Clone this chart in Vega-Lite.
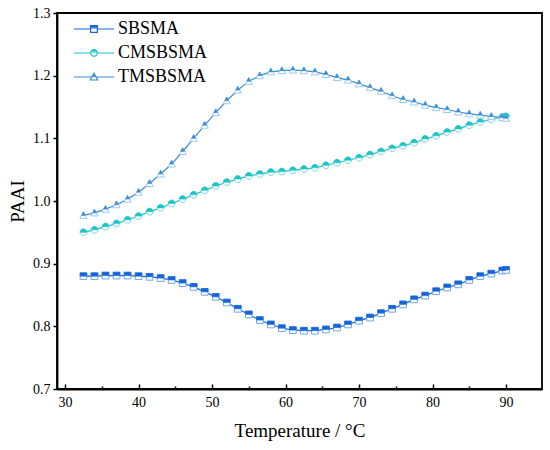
{
  "$schema": "https://vega.github.io/schema/vega-lite/v6.json",
  "width": 485,
  "height": 376,
  "autosize": "none",
  "padding": {"left": 57, "top": 13, "right": 8, "bottom": 61},
  "background": "white",
  "config": {
    "font": "Liberation Serif",
    "view": {"stroke": "black", "strokeWidth": 1.8},
    "axis": {
      "domainColor": "black",
      "domainWidth": 1.8,
      "tickColor": "black",
      "tickWidth": 1.5,
      "labelColor": "black",
      "labelFont": "Liberation Serif",
      "labelFontSize": 14,
      "titleColor": "black",
      "titleFont": "Liberation Serif",
      "titleFontSize": 19,
      "titleFontWeight": "normal",
      "grid": false
    },
    "legend": {
      "labelFont": "Liberation Serif",
      "labelFontSize": 18,
      "labelColor": "black"
    }
  },
  "data": {
    "values": [
      {"s": "SBSMA", "t": 32.5, "v": 0.880}, {"s": "SBSMA", "t": 34, "v": 0.880}, {"s": "SBSMA", "t": 35.5, "v": 0.881},
      {"s": "SBSMA", "t": 37, "v": 0.881}, {"s": "SBSMA", "t": 38.5, "v": 0.881}, {"s": "SBSMA", "t": 40, "v": 0.880},
      {"s": "SBSMA", "t": 41.5, "v": 0.879}, {"s": "SBSMA", "t": 43, "v": 0.877}, {"s": "SBSMA", "t": 44.5, "v": 0.874},
      {"s": "SBSMA", "t": 46, "v": 0.869}, {"s": "SBSMA", "t": 47.5, "v": 0.863}, {"s": "SBSMA", "t": 49, "v": 0.855},
      {"s": "SBSMA", "t": 50.5, "v": 0.847}, {"s": "SBSMA", "t": 52, "v": 0.838}, {"s": "SBSMA", "t": 53.5, "v": 0.828},
      {"s": "SBSMA", "t": 55, "v": 0.819}, {"s": "SBSMA", "t": 56.5, "v": 0.810}, {"s": "SBSMA", "t": 58, "v": 0.803},
      {"s": "SBSMA", "t": 59.5, "v": 0.797}, {"s": "SBSMA", "t": 61, "v": 0.794}, {"s": "SBSMA", "t": 62.5, "v": 0.793},
      {"s": "SBSMA", "t": 64, "v": 0.793}, {"s": "SBSMA", "t": 65.5, "v": 0.795}, {"s": "SBSMA", "t": 67, "v": 0.798},
      {"s": "SBSMA", "t": 68.5, "v": 0.803}, {"s": "SBSMA", "t": 70, "v": 0.809}, {"s": "SBSMA", "t": 71.5, "v": 0.814},
      {"s": "SBSMA", "t": 73, "v": 0.821}, {"s": "SBSMA", "t": 74.5, "v": 0.828}, {"s": "SBSMA", "t": 76, "v": 0.835},
      {"s": "SBSMA", "t": 77.5, "v": 0.843}, {"s": "SBSMA", "t": 79, "v": 0.849}, {"s": "SBSMA", "t": 80.5, "v": 0.856},
      {"s": "SBSMA", "t": 82, "v": 0.862}, {"s": "SBSMA", "t": 83.5, "v": 0.867}, {"s": "SBSMA", "t": 85, "v": 0.874},
      {"s": "SBSMA", "t": 86.5, "v": 0.880}, {"s": "SBSMA", "t": 88, "v": 0.884}, {"s": "SBSMA", "t": 89.5, "v": 0.889},
      {"s": "SBSMA", "t": 90, "v": 0.890},
      {"s": "CMSBSMA", "t": 32.5, "v": 0.950}, {"s": "CMSBSMA", "t": 34, "v": 0.954}, {"s": "CMSBSMA", "t": 35.5, "v": 0.959},
      {"s": "CMSBSMA", "t": 37, "v": 0.964}, {"s": "CMSBSMA", "t": 38.5, "v": 0.970}, {"s": "CMSBSMA", "t": 40, "v": 0.976},
      {"s": "CMSBSMA", "t": 41.5, "v": 0.983}, {"s": "CMSBSMA", "t": 43, "v": 0.989}, {"s": "CMSBSMA", "t": 44.5, "v": 0.996},
      {"s": "CMSBSMA", "t": 46, "v": 1.003}, {"s": "CMSBSMA", "t": 47.5, "v": 1.010}, {"s": "CMSBSMA", "t": 49, "v": 1.017},
      {"s": "CMSBSMA", "t": 50.5, "v": 1.024}, {"s": "CMSBSMA", "t": 52, "v": 1.030}, {"s": "CMSBSMA", "t": 53.5, "v": 1.035},
      {"s": "CMSBSMA", "t": 55, "v": 1.040}, {"s": "CMSBSMA", "t": 56.5, "v": 1.043}, {"s": "CMSBSMA", "t": 58, "v": 1.046},
      {"s": "CMSBSMA", "t": 59.5, "v": 1.047}, {"s": "CMSBSMA", "t": 61, "v": 1.049}, {"s": "CMSBSMA", "t": 62.5, "v": 1.051},
      {"s": "CMSBSMA", "t": 64, "v": 1.053}, {"s": "CMSBSMA", "t": 65.5, "v": 1.057}, {"s": "CMSBSMA", "t": 67, "v": 1.061},
      {"s": "CMSBSMA", "t": 68.5, "v": 1.065}, {"s": "CMSBSMA", "t": 70, "v": 1.069}, {"s": "CMSBSMA", "t": 71.5, "v": 1.074},
      {"s": "CMSBSMA", "t": 73, "v": 1.079}, {"s": "CMSBSMA", "t": 74.5, "v": 1.084}, {"s": "CMSBSMA", "t": 76, "v": 1.088},
      {"s": "CMSBSMA", "t": 77.5, "v": 1.093}, {"s": "CMSBSMA", "t": 79, "v": 1.099}, {"s": "CMSBSMA", "t": 80.5, "v": 1.104},
      {"s": "CMSBSMA", "t": 82, "v": 1.110}, {"s": "CMSBSMA", "t": 83.5, "v": 1.115}, {"s": "CMSBSMA", "t": 85, "v": 1.121},
      {"s": "CMSBSMA", "t": 86.5, "v": 1.126}, {"s": "CMSBSMA", "t": 88, "v": 1.130}, {"s": "CMSBSMA", "t": 89.5, "v": 1.134},
      {"s": "CMSBSMA", "t": 90, "v": 1.135},
      {"s": "TMSBSMA", "t": 32.5, "v": 0.977}, {"s": "TMSBSMA", "t": 34, "v": 0.981}, {"s": "TMSBSMA", "t": 35.5, "v": 0.987},
      {"s": "TMSBSMA", "t": 37, "v": 0.994}, {"s": "TMSBSMA", "t": 38.5, "v": 1.003}, {"s": "TMSBSMA", "t": 40, "v": 1.014},
      {"s": "TMSBSMA", "t": 41.5, "v": 1.028}, {"s": "TMSBSMA", "t": 43, "v": 1.043}, {"s": "TMSBSMA", "t": 44.5, "v": 1.059},
      {"s": "TMSBSMA", "t": 46, "v": 1.079}, {"s": "TMSBSMA", "t": 47.5, "v": 1.100}, {"s": "TMSBSMA", "t": 49, "v": 1.121},
      {"s": "TMSBSMA", "t": 50.5, "v": 1.141}, {"s": "TMSBSMA", "t": 52, "v": 1.160}, {"s": "TMSBSMA", "t": 53.5, "v": 1.177},
      {"s": "TMSBSMA", "t": 55, "v": 1.191}, {"s": "TMSBSMA", "t": 56.5, "v": 1.200}, {"s": "TMSBSMA", "t": 58, "v": 1.206},
      {"s": "TMSBSMA", "t": 59.5, "v": 1.208}, {"s": "TMSBSMA", "t": 61, "v": 1.209}, {"s": "TMSBSMA", "t": 62.5, "v": 1.208},
      {"s": "TMSBSMA", "t": 64, "v": 1.206}, {"s": "TMSBSMA", "t": 65.5, "v": 1.202}, {"s": "TMSBSMA", "t": 67, "v": 1.197},
      {"s": "TMSBSMA", "t": 68.5, "v": 1.193}, {"s": "TMSBSMA", "t": 70, "v": 1.187}, {"s": "TMSBSMA", "t": 71.5, "v": 1.181},
      {"s": "TMSBSMA", "t": 73, "v": 1.175}, {"s": "TMSBSMA", "t": 74.5, "v": 1.168}, {"s": "TMSBSMA", "t": 76, "v": 1.162},
      {"s": "TMSBSMA", "t": 77.5, "v": 1.158}, {"s": "TMSBSMA", "t": 79, "v": 1.153}, {"s": "TMSBSMA", "t": 80.5, "v": 1.149},
      {"s": "TMSBSMA", "t": 82, "v": 1.146}, {"s": "TMSBSMA", "t": 83.5, "v": 1.142}, {"s": "TMSBSMA", "t": 85, "v": 1.139},
      {"s": "TMSBSMA", "t": 86.5, "v": 1.137}, {"s": "TMSBSMA", "t": 88, "v": 1.135}, {"s": "TMSBSMA", "t": 89.5, "v": 1.133},
      {"s": "TMSBSMA", "t": 90, "v": 1.132}
    ]
  },
  "encoding": {
    "x": {
      "field": "t",
      "type": "quantitative",
      "title": "Temperature / °C",
      "scale": {"domain": [28.9, 94.9], "nice": false, "zero": false},
      "axis": {
        "values": [30, 35, 40, 45, 50, 55, 60, 65, 70, 75, 80, 85, 90],
        "labelExpr": "datum.value % 10 === 0 ? datum.label : ''",
        "tickSize": {"condition": {"test": "datum.value % 10 !== 0", "value": -3}, "value": -5},
        "labelPadding": 11,
        "labelFlush": false,
        "titlePadding": 12
      }
    },
    "y": {
      "field": "v",
      "type": "quantitative",
      "title": "PAAI",
      "scale": {"domain": [0.7, 1.3], "nice": false, "zero": false},
      "axis": {
        "values": [0.7, 0.8, 0.9, 1.0, 1.1, 1.2, 1.3],
        "format": ".1f",
        "tickSize": 4,
        "labelPadding": 3,
        "labelFlush": false,
        "titlePadding": 5
      }
    }
  },
  "layer": [
    {
      "transform": [{"filter": "datum.s === 'SBSMA'"}],
      "mark": {"type": "line", "strokeWidth": 1.2, "stroke": "#1565d8"},
      "encoding": {}
    },
    {
      "transform": [{"filter": "datum.s === 'CMSBSMA'"}],
      "mark": {"type": "line", "strokeWidth": 1.2, "stroke": "#1ec3c6"},
      "encoding": {}
    },
    {
      "transform": [{"filter": "datum.s === 'TMSBSMA'"}],
      "mark": {"type": "line", "strokeWidth": 1.2, "stroke": "#3a8ed2"},
      "encoding": {}
    },
    {
      "transform": [{"filter": "datum.s === 'SBSMA'"}],
      "mark": {"type": "point", "shape": "M-1,-1H1V1H-1Z", "filled": false, "fill": "white", "fillOpacity": 1, "stroke": "#6fa6ee", "strokeWidth": 1, "size": 45, "opacity": 1}
    },
    {
      "transform": [{"filter": "datum.s === 'SBSMA'"}],
      "mark": {"type": "point", "shape": "M-1,-1H1V0H-1Z", "filled": true, "fill": "#1565d8", "stroke": "#1565d8", "strokeWidth": 0.6, "size": 45, "opacity": 1}
    },
    {
      "transform": [{"filter": "datum.s === 'CMSBSMA'"}],
      "mark": {"type": "point", "shape": "M1,0A1,1,0,1,1,-1,0A1,1,0,1,1,1,0Z", "filled": false, "fill": "white", "fillOpacity": 1, "stroke": "#6fdde0", "strokeWidth": 1, "size": 45, "opacity": 1}
    },
    {
      "transform": [{"filter": "datum.s === 'CMSBSMA'"}],
      "mark": {"type": "point", "shape": "M-1,0A1,1,0,0,1,1,0Z", "filled": true, "fill": "#1ec3c6", "stroke": "#1ec3c6", "strokeWidth": 0.6, "size": 45, "opacity": 1}
    },
    {
      "transform": [{"filter": "datum.s === 'TMSBSMA'"}],
      "mark": {"type": "point", "shape": "M0,-1.1L1.1,0.9H-1.1Z", "filled": false, "fill": "white", "fillOpacity": 1, "stroke": "#9ccaf0", "strokeWidth": 1, "size": 45, "opacity": 1}
    },
    {
      "transform": [{"filter": "datum.s === 'TMSBSMA'"}],
      "mark": {"type": "point", "shape": "M0,-1.1L0.6,0H-0.6Z", "filled": true, "fill": "#3a8ed2", "stroke": "#3a8ed2", "strokeWidth": 0.6, "size": 45, "opacity": 1}
    },
    {
      "transform": [{"filter": "datum.t < 0"}],
      "mark": {"type": "point", "filled": false, "strokeWidth": 1.2, "opacity": 1},
      "encoding": {
        "shape": {
          "field": "s",
          "type": "nominal",
          "scale": {
            "domain": ["SBSMA", "CMSBSMA", "TMSBSMA"],
            "range": [
              "M-6,0H-1M1,0H6M-1,-1H1V1H-1ZM-1,-0.7H1M-1,-0.3H1",
              "M-6,0H-1M1,0H6M1,0A1,1,0,1,1,-1,0A1,1,0,1,1,1,0ZM-0.85,-0.3H0.85M-0.55,-0.7H0.55",
              "M-6,0H-0.6M0.6,0H6M0,-1.1L1.1,0.9H-1.1ZM-0.5,-0.2H0.5M-0.25,-0.6H0.25"
            ]
          },
          "legend": {
            "title": null,
            "orient": "none",
            "legendX": 28,
            "legendY": 7,
            "padding": 0,
            "symbolSize": 45,
            "symbolStrokeWidth": 1.2,
            "labelOffset": 15,
            "rowPadding": 6
          }
        },
        "color": {
          "field": "s",
          "type": "nominal",
          "scale": {"domain": ["SBSMA", "CMSBSMA", "TMSBSMA"], "range": ["#1565d8", "#1ec3c6", "#3a8ed2"]},
          "legend": {
            "title": null,
            "orient": "none",
            "legendX": 28,
            "legendY": 7,
            "padding": 0,
            "symbolSize": 45,
            "symbolStrokeWidth": 1.2,
            "labelOffset": 15,
            "rowPadding": 6
          }
        }
      }
    }
  ]
}
